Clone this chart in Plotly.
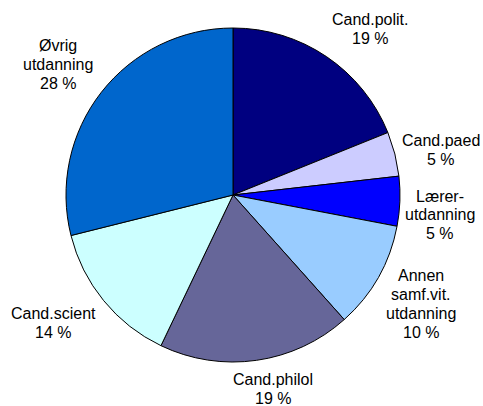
import plotly.graph_objects as go

categories = ["Cand.polit.", "Cand.paed", "Lærer-\nutdanning", "Annen\nsamf.vit.\nutdanning",
              "Cand.philol", "Cand.scient", "Øvrig\nutdanning"]
values = [18.9, 4.3, 4.8, 10.4, 18.7, 14.0, 28.9]          # slice sizes
pct_labels = ["19 %", "5 %", "5 %", "10 %", "19 %", "14 %", "28 %"]  # printed data labels
colors = ["#000080", "#CCCCFF", "#0000FF", "#99CCFF", "#666699", "#CCFFFF", "#0066CC"]

# label block centre positions in pixels (layout only)
label_px = [(370, 28.5), (441, 149.5), (440, 215), (421, 303.5), (273, 388.5), (53, 323), (58, 64.5)]
LINE_H = 19

W, H = 483, 406
cx, cy, r = 233, 195, 167

fig = go.Figure(go.Pie(
    labels=[c.replace("\n", " ") for c in categories],
    values=values,
    sort=False,
    direction="clockwise",
    rotation=0,
    marker=dict(colors=colors, line=dict(color="#000000", width=1)),
    textinfo="none",
    hoverinfo="label",
    showlegend=False,
    domain=dict(x=[(cx - r) / W, (cx + r) / W], y=[1 - (cy + r) / H, 1 - (cy - r) / H]),
))

for lab, pct, (px, py) in zip(categories, pct_labels, label_px):
    lines = lab.split("\n") + [pct]
    n = len(lines)
    for i, line in enumerate(lines):
        ly = py + (i - (n - 1) / 2) * LINE_H
        fig.add_annotation(
            x=px / W, y=1 - ly / H, xref="paper", yref="paper",
            text=line, showarrow=False,
            xanchor="center", yanchor="middle", align="center",
            font=dict(family="Liberation Sans, Arial, sans-serif", size=16, color="#000000"),
        )

fig.update_layout(
    width=W, height=H,
    margin=dict(l=0, r=0, t=0, b=0),
    paper_bgcolor="#FFFFFF", plot_bgcolor="#FFFFFF",
)

fig.write_html("out.html", config={"displayModeBar": False},
               post_script="document.body.style.margin='0';document.body.style.overflow='hidden';")
